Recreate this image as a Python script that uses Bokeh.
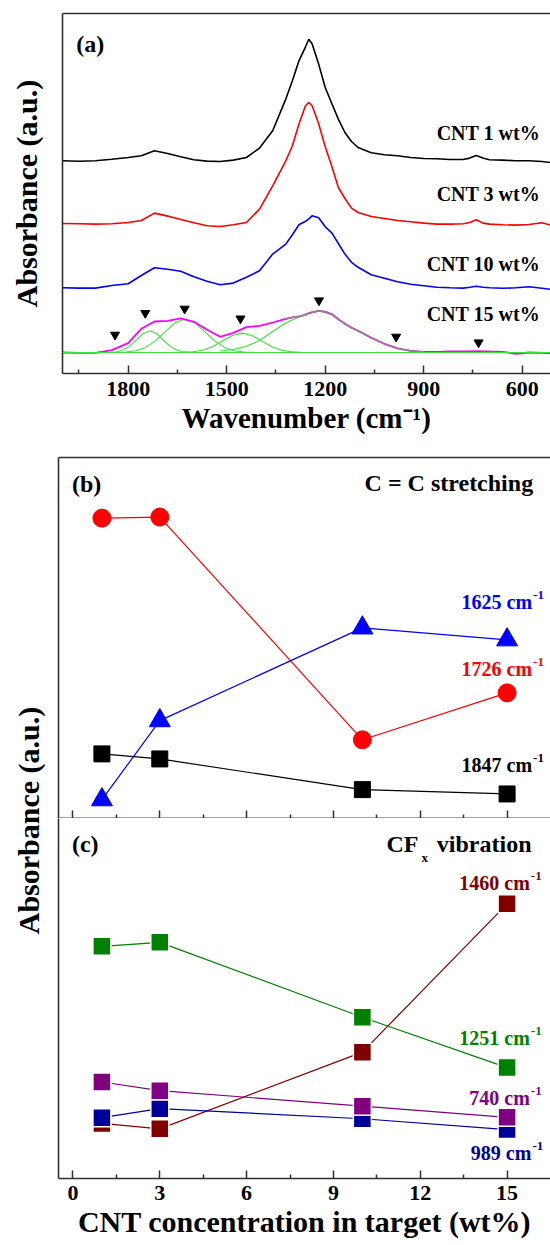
import math
from bokeh.plotting import figure
from bokeh.models import Range1d, FixedTicker, LinearAxis, Label, Span
from bokeh.layouts import column, row
from bokeh.embed import file_html
from bokeh.resources import INLINE

# ---------------- data: panel (a) FTIR spectra (stacked, a.u.) ----------------
wavenumber = [2000, 1950, 1900, 1850, 1800, 1760, 1720, 1680, 1640, 1600,
              1560, 1520, 1480, 1440, 1400, 1360, 1320, 1300, 1280, 1260,
              1250, 1240, 1220, 1200, 1180, 1160, 1140, 1120, 1100, 1060,
              1020, 980, 940, 900, 860, 820, 780, 760, 740, 720,
              700, 660, 620, 580, 540, 514]
cnt1_abs = [2.127, 2.122, 2.127, 2.142, 2.160, 2.177, 2.227, 2.200, 2.167, 2.137,
            2.124, 2.120, 2.134, 2.160, 2.254, 2.427, 2.744, 2.927, 3.127, 3.267,
            3.342, 3.297, 3.094, 2.860, 2.700, 2.544, 2.410, 2.320, 2.260, 2.207,
            2.187, 2.177, 2.160, 2.150, 2.147, 2.140, 2.140, 2.154, 2.180, 2.154,
            2.137, 2.134, 2.127, 2.127, 2.120, 2.110]
cnt3_abs = [1.500, 1.497, 1.494, 1.497, 1.510, 1.530, 1.604, 1.574, 1.540, 1.507,
            1.477, 1.470, 1.487, 1.510, 1.644, 1.877, 2.127, 2.277, 2.494, 2.677,
            2.710, 2.677, 2.497, 2.267, 2.073, 1.860, 1.750, 1.654, 1.610, 1.570,
            1.550, 1.530, 1.517, 1.504, 1.494, 1.494, 1.497, 1.510, 1.537, 1.504,
            1.494, 1.487, 1.484, 1.490, 1.507, 1.484]
cnt10_abs = [0.857, 0.854, 0.854, 0.880, 0.897, 0.980, 1.057, 1.043, 1.023, 0.967,
             0.923, 0.887, 0.904, 0.963, 1.027, 1.194, 1.294, 1.387, 1.487, 1.522,
             1.547, 1.577, 1.557, 1.467, 1.407, 1.300, 1.194, 1.112, 1.062, 0.987,
             0.952, 0.917, 0.892, 0.877, 0.862, 0.857, 0.854, 0.862, 0.872, 0.862,
             0.857, 0.852, 0.857, 0.867, 0.852, 0.842]
cnt15_abs = [0.210, 0.207, 0.207, 0.234, 0.304, 0.447, 0.520, 0.527, 0.552, 0.517,
             0.437, 0.367, 0.407, 0.464, 0.477, 0.510, 0.547, 0.562, 0.572, 0.587,
             0.602, 0.612, 0.627, 0.617, 0.592, 0.542, 0.497, 0.457, 0.427, 0.357,
             0.297, 0.252, 0.227, 0.217, 0.217, 0.220, 0.220, 0.222, 0.224, 0.222,
             0.220, 0.217, 0.197, 0.210, 0.207, 0.200]
# cumulative fit of the CNT 15 wt% spectrum (visible part)
fit_sum_wn = [1320, 1300, 1280, 1260, 1250, 1240, 1220, 1200, 1180, 1160,
              1140, 1120, 1100, 1060, 1020, 980, 940, 900]
fit_sum = [0.545, 0.560, 0.570, 0.585, 0.600, 0.610, 0.625, 0.615, 0.590, 0.540,
           0.495, 0.455, 0.425, 0.355, 0.295, 0.250, 0.226, 0.216]
fit_baseline = 0.21
# fitted peak components
peak1_wn = [1874, 1854, 1834, 1814, 1794, 1774, 1754, 1734, 1714, 1694, 1674, 1654, 1634, 1614, 1594]
peak1 = [0.210, 0.212, 0.218, 0.237, 0.276, 0.338, 0.400, 0.427, 0.400, 0.338, 0.276, 0.237, 0.218, 0.212, 0.210]
peak2_wn = [1837, 1807, 1777, 1747, 1717, 1687, 1657, 1627, 1597, 1567, 1537, 1507, 1477, 1447, 1417]
peak2 = [0.211, 0.215, 0.228, 0.261, 0.326, 0.419, 0.507, 0.544, 0.507, 0.419, 0.326, 0.261, 0.228, 0.215, 0.211]
peak3_wn = [1633, 1603, 1573, 1543, 1513, 1483, 1453, 1423, 1393, 1363, 1333, 1303, 1273]
peak3 = [0.2115, 0.217, 0.233, 0.268, 0.324, 0.380, 0.404, 0.380, 0.324, 0.268, 0.233, 0.217, 0.2115]
peak4_wn = [1520, 1480, 1440, 1400, 1360, 1320, 1300, 1280, 1260, 1240, 1220, 1200,
            1180, 1160, 1140, 1120, 1100, 1060, 1020, 980, 940, 900, 860]
peak4 = [0.225, 0.240, 0.272, 0.330, 0.420, 0.505, 0.535, 0.565, 0.595, 0.618, 0.627, 0.622,
         0.597, 0.545, 0.498, 0.457, 0.427, 0.357, 0.297, 0.252, 0.227, 0.216, 0.211]
# peak position markers
marker_wn = [1840, 1748, 1628, 1458, 1219, 984, 733]
marker_abs = [0.387, 0.604, 0.647, 0.549, 0.730, 0.367, 0.310]
a_major_ticks = [600, 900, 1200, 1500, 1800]
a_minor_ticks = [750, 1050, 1350, 1650, 1950]

# ---------------- data: panels (b), (c) ----------------
cnt_conc = [1, 3, 10, 15]
cc_1847 = [0.179, 0.165, 0.080, 0.068]
cc_1726 = [0.832, 0.835, 0.218, 0.348]
cc_1625 = [0.052, 0.271, 0.528, 0.495]
cf_1460 = [0.153, 0.138, 0.351, 0.763]
cf_1251 = [0.645, 0.656, 0.448, 0.308]
cf_740 = [0.268, 0.244, 0.201, 0.170]
cf_989 = [0.169, 0.194, 0.166, 0.136]
bc_major_ticks = [0, 3, 6, 9, 12, 15]
bc_minor_ticks = [1.5, 4.5, 7.5, 10.5, 13.5]

# ---------------- styling helpers ----------------
FONT = "Liberation Serif"
AXC = "#303030"


def tick_axis(ax, major, minor, label_size="22px", standoff=8):
    ax.ticker = FixedTicker(ticks=major, minor_ticks=minor)
    ax.axis_line_color = AXC
    ax.axis_line_width = 1.6
    ax.major_tick_line_color = AXC
    ax.major_tick_line_width = 1.5
    ax.minor_tick_line_color = AXC
    ax.minor_tick_line_width = 1.5
    ax.major_tick_in = 8
    ax.major_tick_out = 0
    ax.minor_tick_in = 4
    ax.minor_tick_out = 0
    ax.major_label_text_font = FONT
    ax.major_label_text_font_style = "bold"
    ax.major_label_text_font_size = label_size
    ax.major_label_text_color = "black"
    ax.major_label_standoff = standoff


def ticks_only_axis(ax, positions, length):
    # unlabeled inward ticks (drawn as minor ticks, so no tick labels exist)
    ax.ticker = FixedTicker(ticks=[], minor_ticks=positions)
    ax.axis_line_color = AXC
    ax.axis_line_width = 1.6
    ax.major_tick_line_color = None
    ax.major_tick_in = 0
    ax.major_tick_out = 0
    ax.minor_tick_line_color = AXC
    ax.minor_tick_line_width = 1.5
    ax.minor_tick_in = length
    ax.minor_tick_out = 0
    ax.major_label_standoff = 0


def border_axis(ax):
    ax.ticker = FixedTicker(ticks=[])
    ax.axis_line_color = AXC
    ax.axis_line_width = 1.6
    ax.major_tick_line_color = None
    ax.minor_tick_line_color = None
    ax.major_tick_in = 0
    ax.major_tick_out = 0
    ax.minor_tick_in = 0
    ax.minor_tick_out = 0
    ax.major_label_standoff = 0


def axis_title(ax, text, size, standoff):
    ax.axis_label = text
    ax.axis_label_text_font = FONT
    ax.axis_label_text_font_style = "bold"
    ax.axis_label_text_font_size = size
    ax.axis_label_text_color = "black"
    ax.axis_label_standoff = standoff


def txt(p, x, y, text, size, color="black", align="right", baseline="middle", xo=0, yo=0):
    p.add_layout(Label(x=x, y=y, text=text, text_font=FONT, text_font_style="bold",
                       text_font_size=size, text_color=color, text_align=align,
                       text_baseline=baseline, x_offset=xo, y_offset=yo))


def cm_label(p, x, y, number, color):
    txt(p, x, y, number + " cm", "20px", color, "right")
    txt(p, x, y, "-1", "13px", color, "left", xo=1, yo=7)


def base_fig(**kw):
    p = figure(output_backend="svg", toolbar_location=None, **kw)
    p.outline_line_color = None
    p.xgrid.visible = False
    p.ygrid.visible = False
    p.background_fill_color = "white"
    p.border_fill_color = "white"
    return p


# ---------------- panel (a) ----------------
pa = base_fig(frame_width=488, frame_height=360, x_range=Range1d(2000, 514),
              y_range=Range1d(0, 3.60), min_border_left=62, min_border_right=0,
              min_border_top=13, min_border_bottom=72)
tick_axis(pa.xaxis[0], a_major_ticks, a_minor_ticks, standoff=8)
axis_title(pa.xaxis[0], "Wavenumber (cm\u207b\u00b9)", "29px", 3)
border_axis(pa.yaxis[0])
axis_title(pa.yaxis[0], "Absorbance (a.u.)", "30px", 20)
top_a = LinearAxis()
border_axis(top_a)
pa.add_layout(top_a, "above")

GREEN = "#3ce03c"
pa.add_layout(Span(location=fit_baseline, dimension="width", line_color=GREEN, line_width=1.2))
for wn_, pk in [(peak1_wn, peak1), (peak2_wn, peak2), (peak3_wn, peak3), (peak4_wn, peak4)]:
    pa.line(wn_, pk, line_color=GREEN, line_width=1.1)
pa.line(wavenumber, cnt15_abs, line_color="#ff00ff", line_width=1.8)
pa.line(fit_sum_wn, fit_sum, line_color="#8a8a8a", line_width=1.3)
pa.line(wavenumber, cnt10_abs, line_color="#0000ff", line_width=1.6)
pa.line(wavenumber, cnt3_abs, line_color="#ff0000", line_width=1.6)
pa.line(wavenumber, cnt1_abs, line_color="black", line_width=1.6)
pa.scatter(marker_wn, marker_abs, marker="inverted_triangle", size=9,
           fill_color="black", line_color="black")

txt(pa, 1958, 3.30, "(a)", "24px", align="left")
txt(pa, 546, 2.41, "CNT 1 wt%", "20px")
txt(pa, 546, 1.794, "CNT 3 wt%", "20px")
txt(pa, 546, 1.094, "CNT 10 wt%", "20px")
txt(pa, 546, 0.594, "CNT 15 wt%", "20px")

# ---------------- panel (b) ----------------
pb = base_fig(frame_width=492, frame_height=361, x_range=Range1d(-0.5, 16.5),
              y_range=Range1d(0, 1), min_border_left=6, min_border_right=0,
              min_border_top=12, min_border_bottom=0)
ticks_only_axis(pb.xaxis[0], bc_major_ticks, 8)
bx2 = LinearAxis()
ticks_only_axis(bx2, bc_minor_ticks, 4)
pb.add_layout(bx2, "below")
border_axis(pb.yaxis[0])
top_b = LinearAxis()
border_axis(top_b)
pb.add_layout(top_b, "above")

pb.line(cnt_conc, cc_1847, line_color="black", line_width=1.2)
pb.line(cnt_conc, cc_1726, line_color="#ff0000", line_width=1.2)
pb.line(cnt_conc, cc_1625, line_color="#0000ff", line_width=1.2)
pb.scatter(cnt_conc, cc_1847, marker="square", size=16, fill_color="black", line_color="black")
pb.scatter(cnt_conc, cc_1726, marker="circle", size=18, fill_color="#ff0000", line_color="#ff0000")
pb.scatter(cnt_conc, cc_1625, marker="triangle", size=21, fill_color="#0000ff", line_color="#0000ff")

txt(pb, -0.035, 0.927, "(b)", "24px", align="left")
txt(pb, 15.90, 0.929, "C = C stretching", "24px")
cm_label(pb, 15.865, 0.600, "1625", "#0000ff")
cm_label(pb, 15.865, 0.415, "1726", "#ff0000")
cm_label(pb, 15.865, 0.147, "1847", "black")

# ---------------- panel (c) ----------------
pc = base_fig(frame_width=492, frame_height=360, x_range=Range1d(-0.5, 16.5),
              y_range=Range1d(0, 1), min_border_left=6, min_border_right=0,
              min_border_top=0, min_border_bottom=67)
tick_axis(pc.xaxis[0], bc_major_ticks, bc_minor_ticks, standoff=7)
axis_title(pc.xaxis[0], "CNT concentration in target (wt%)", "30px", 2)
border_axis(pc.yaxis[0])

MAROON, GRN, PURP, NAVY = "#800000", "#008000", "#800080", "#000099"
for vals, col in [(cf_1460, MAROON), (cf_989, NAVY), (cf_740, PURP), (cf_1251, GRN)]:
    pc.line(cnt_conc, vals, line_color=col, line_width=1.2)
for vals, col in [(cf_1460, MAROON), (cf_989, NAVY), (cf_740, PURP), (cf_1251, GRN)]:
    pc.scatter(cnt_conc, vals, marker="square", size=18, fill_color=col,
               line_color="white", line_width=1.5)

txt(pc, -0.035, 0.928, "(c)", "24px", align="left")
txt(pc, 15.844, 0.929, "vibration", "24px")
txt(pc, 15.844, 0.929, "x", "13px", align="left", xo=-110, yo=-13)
txt(pc, 15.844, 0.929, "CF", "24px", xo=-113)
cm_label(pc, 15.785, 0.821, "1460", MAROON)
cm_label(pc, 15.785, 0.390, "1251", GRN)
cm_label(pc, 15.785, 0.224, "740", PURP)
cm_label(pc, 15.84, 0.070, "989", NAVY)

# ---------------- shared y label for (b)+(c) ----------------
pl = base_fig(frame_width=52, frame_height=800, x_range=Range1d(0, 52),
              y_range=Range1d(1245, 445), x_axis_type=None, y_axis_type=None,
              min_border=0)
pl.add_layout(Label(x=28, y=820, text="Absorbance (a.u.)", angle=math.pi / 2,
                    text_font=FONT, text_font_style="bold", text_font_size="30px",
                    text_color="black", text_align="center", text_baseline="middle"))

layout = column(pa, row(pl, column(pb, pc)))
open("out.html", "w").write(file_html(layout, INLINE, title="FTIR"))
